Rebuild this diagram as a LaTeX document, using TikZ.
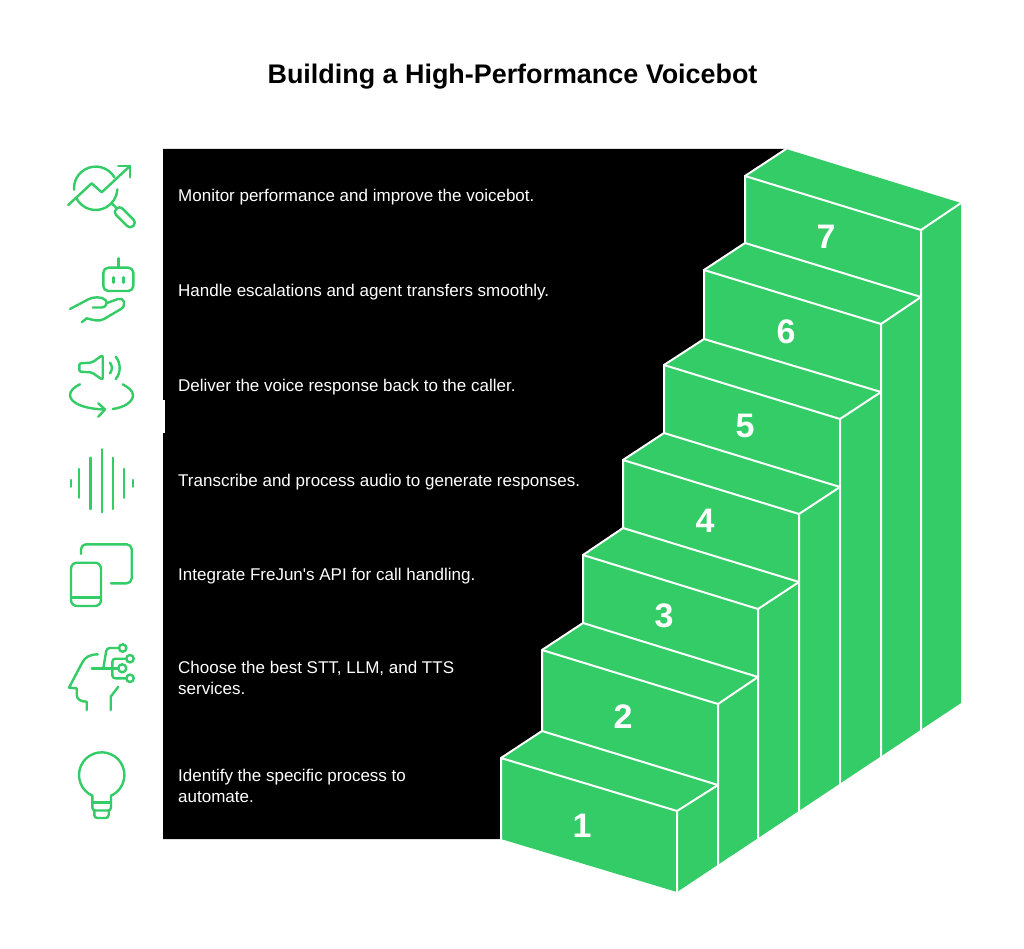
\documentclass[tikz,border=0pt]{standalone}
\usepackage{fontspec}
\setmainfont{Liberation Sans}[Ligatures=TeXOff]
\definecolor{stairgreen}{HTML}{33CC66}
\tikzset{
	edgeline/.style={draw=white,line width=2pt,line cap=round,line join=round},
	iconline/.style={draw=stairgreen,line width=2.4pt,line cap=round,line join=round},
	caption/.style={anchor=west,align=left,text=white,inner sep=0pt,font=\fontsize{17}{20.5}\selectfont},
	stepnum/.style={text=white,inner sep=0pt,font=\fontsize{34}{34}\selectfont\bfseries}
}
\begin{document}
\begin{tikzpicture}[x=1pt,y=-1pt]
		\useasboundingbox (0,0) rectangle (1024,949);
		\fill [white] (0,0) rectangle (1024,949);
		\node [inner sep=0pt,font=\fontsize{26.9}{30}\selectfont\bfseries] (title) at (512.5,77) {Building a High-Performance Voicebot};
		\fill [black] (163,149) -- (786,149) -- (745,176) -- (745,243) -- (704,270) -- (704,339) -- (664,365) -- (664,433) -- (623,460) -- (623,528) -- (583,555) -- (583,623) -- (542,650) -- (542,731) -- (501,758) -- (501,839) -- (163,839) -- cycle;
		\fill [white] (163,400) rectangle (165,433);
		\fill [stairgreen] (501,758) -- (542,731) -- (542,650) -- (583,623) -- (583,555) -- (623,528) -- (623,460) -- (664,433) -- (664,365) -- (704,339) -- (704,270) -- (745,243) -- (745,176) -- (786,149) -- (961,203) -- (961,703) -- (677,892) -- (501,839) -- cycle;
		\draw [edgeline] (501,839) -- (501,758) -- (677,811) -- (677,892);
		\draw [edgeline] (501,758) -- (542,731) -- (718,785);
		\draw [edgeline] (677,811) -- (718,785);
		\draw [edgeline] (542,731) -- (542,650) -- (718,704) -- (718,865);
		\draw [edgeline] (542,650) -- (583,623) -- (758,677);
		\draw [edgeline] (718,704) -- (758,677);
		\draw [edgeline] (583,623) -- (583,555) -- (758,609) -- (758,838);
		\draw [edgeline] (583,555) -- (623,528) -- (799,582);
		\draw [edgeline] (758,609) -- (799,582);
		\draw [edgeline] (623,528) -- (623,460) -- (799,514) -- (799,811);
		\draw [edgeline] (623,460) -- (664,433) -- (840,487);
		\draw [edgeline] (799,514) -- (840,487);
		\draw [edgeline] (664,433) -- (664,365) -- (840,419) -- (840,784);
		\draw [edgeline] (664,365) -- (704,339) -- (881,392);
		\draw [edgeline] (840,419) -- (881,392);
		\draw [edgeline] (704,339) -- (704,270) -- (881,324) -- (881,757);
		\draw [edgeline] (704,270) -- (745,243) -- (921,297);
		\draw [edgeline] (881,324) -- (921,297);
		\draw [edgeline] (745,243) -- (745,176) -- (921,230) -- (921,730);
		\draw [edgeline] (745,176) -- (786,149);
		\draw [edgeline] (921,230) -- (961,203);
		\node [stepnum] (num1) at (582,826) {1};
		\node [stepnum] (num2) at (623,717) {2};
		\node [stepnum] (num3) at (664,616) {3};
		\node [stepnum] (num4) at (705,521) {4};
		\node [stepnum] (num5) at (745,426) {5};
		\node [stepnum] (num6) at (786,332) {6};
		\node [stepnum] (num7) at (826,237) {7};
		\node [caption] (monitor) at (178,197) {Monitor performance and improve the voicebot.};
		\node [caption] (handle) at (178,292) {Handle escalations and agent transfers smoothly.};
		\node [caption] (deliver) at (178,387) {Deliver the voice response back to the caller.};
		\node [caption] (transcribe) at (178,482) {Transcribe and process audio to generate responses.};
		\node [caption] (integrate) at (178,576) {Integrate FreJun's API for call handling.};
		\node [caption] (choose) at (178,678) {Choose the best STT, LLM, and TTS\\services.};
		\node [caption] (identify) at (178,786) {Identify the specific process to\\automate.};
		\draw [iconline] ([shift={(95.7,188.3)}]-30:21.7) arc (-30:-184:21.7);
		\draw [iconline] ([shift={(95.7,188.3)}]152:21.7) arc (152:3:21.7);
		\draw [iconline] (68.3,205) -- (91.7,183.3) -- (101.7,192.3) -- (130,166);
		\draw [iconline] (118.3,166) -- (130,166) -- (130,177.3);
		\draw [iconline] (111.7,203.3) -- (117,208.5);
		\draw [iconline,rounded corners=4,rotate around={-45:(124.8,217.3)}] (112.8,212.8) rectangle (136.8,221.8);
		\draw [iconline,rounded corners=5] (103.3,267.7) rectangle (133.3,291);
		\draw [iconline] (118.3,258.3) -- (118.3,267.7);
		\draw [iconline] (113.3,277.3) -- (113.3,282.7);
		\draw [iconline] (123.3,277.3) -- (123.3,282.7);
		\draw [iconline] (70,309) -- (88,299.5) .. controls (93,296.5) and (102,296.5) .. (105.5,300) .. controls (108,303) and (106,307) .. (102,307.5) -- (92.7,307.5);
		\draw [iconline] (107,303) -- (118,299) .. controls (124,297) and (127,305) .. (121,309) -- (104,319) .. controls (99,322) and (93,320) .. (86.7,318.3) -- (81.7,322.3);
		\draw [iconline,rounded corners=2] (79.3,363.3) -- (91.7,362.7) -- (102.7,355) -- (102.7,380) -- (91.7,372.3) -- (79.3,371.7) -- cycle;
		\draw [iconline] (110,362.7) .. controls (112.5,366) and (112.5,370) .. (110,373.3);
		\draw [iconline] (115.7,356.7) .. controls (121,363) and (121,373) .. (115.7,379);
		\draw [iconline] (80,384.3) .. controls (74,387) and (70,391) .. (70,395) .. controls (70,403) and (84,409) .. (105,409.5);
		\draw [iconline] (98.3,403.3) -- (105,409.5) -- (98.3,416.7);
		\draw [iconline] (122.7,384.3) .. controls (128,387) and (133,391) .. (133,395) .. controls (133,402) and (124,407.5) .. (112.7,409);
		\draw [iconline] (70.7,480) -- (70.7,486.7);
		\draw [iconline] (79,469) -- (79,497.7);
		\draw [iconline] (90.3,457.7) -- (90.3,509);
		\draw [iconline] (101.7,449.3) -- (101.7,512.3);
		\draw [iconline] (112.7,457.7) -- (112.7,509);
		\draw [iconline] (124,469) -- (124,497.7);
		\draw [iconline] (132.7,480) -- (132.7,486.7);
		\draw [iconline,rounded corners=5] (81,554) -- (81,544.3) -- (131.7,544.3) -- (131.7,583.3) -- (111,583.3);
		\draw [iconline,rounded corners=6] (71,562.7) rectangle (101,606);
		\draw [iconline] (71,597.3) -- (101,597.3);
		\draw [iconline] (97.7,654.3) .. controls (90,654.5) and (85,657) .. (82,663) -- (69,687.7) -- (76.7,688.3) -- (76.7,695) .. controls (77,699) and (80,701.7) .. (86.7,701.7) -- (86.7,710);
		\draw [iconline] (110.7,710) -- (110.7,696.7) -- (118.3,686.7);
		\draw [iconline] (91.7,668.3) -- (118.3,668.3);
		\draw [iconline] (122.3,668.3) circle (4);
		\draw [iconline] (122.7,648) circle (3.7);
		\draw [iconline] (130,658.7) circle (3.7);
		\draw [iconline] (130,678.3) circle (3.7);
		\draw [iconline,rounded corners=3] (103.3,668.3) -- (106.7,648) -- (119,648);
		\draw [iconline,rounded corners=3] (112.3,668.3) -- (112.3,658.7) -- (126.3,658.7);
		\draw [iconline,rounded corners=3] (112.3,668.3) -- (112.3,678.3) -- (126.3,678.3);
		\draw [iconline] ([shift={(101.7,775)}]114:22.7) arc (114:426:22.7);
		\draw [iconline,rounded corners=3] (92.3,795.7) -- (92.3,810.5) -- (111,810.5) -- (111,795.7);
		\draw [iconline] (92.3,802.3) -- (111,802.3);
		\draw [iconline,rounded corners=3] (94.3,810.5) -- (94.3,818) -- (108.7,818) -- (108.7,810.5);
		\end{tikzpicture}
\end{document}
